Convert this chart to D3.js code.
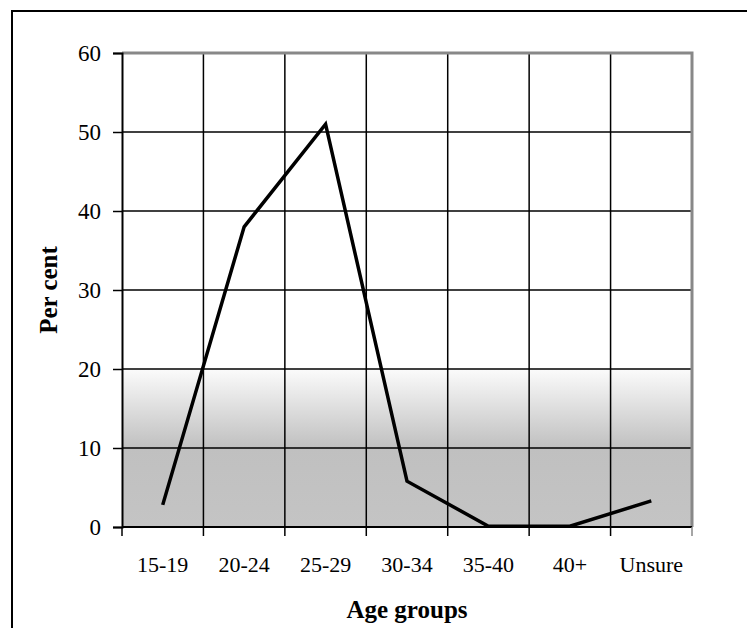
<!DOCTYPE html>
<html>
<head>
<meta charset="utf-8">
<script src="https://cdn.jsdelivr.net/npm/d3@7"></script>
<style>
  body { margin: 0; background: #fff; }
  text { font-family: "Liberation Serif", "Times New Roman", serif; fill: #000; }
</style>
</head>
<body>
<div id="chart"></div>
<script>
var ageGroups = ["15-19", "20-24", "25-29", "30-34", "35-40", "40+", "Unsure"];
var perCent = [2.8, 38, 51, 5.8, 0.1, 0.1, 3.3];
var yTicks = [0, 10, 20, 30, 40, 50, 60];

var W = 747, H = 628;
var pLeft = 122, pRight = 692, pTop = 53, pBottom = 527;

var svg = d3.select("#chart").append("svg")
  .attr("width", W).attr("height", H);

// outer frame (cut off at right and bottom)
svg.append("rect")
  .attr("x", 12).attr("y", 11)
  .attr("width", W + 20).attr("height", H + 20)
  .attr("fill", "none").attr("stroke", "#000").attr("stroke-width", 2);

var x = d3.scaleBand().domain(ageGroups).range([pLeft, pRight]);
var y = d3.scaleLinear().domain([0, 60]).range([pBottom, pTop]);

// shaded lower band
var grad = svg.append("defs").append("linearGradient")
  .attr("id", "shade").attr("x1", 0).attr("y1", 0).attr("x2", 0).attr("y2", 1);
grad.append("stop").attr("offset", "0%").attr("stop-color", "#fbfbfb");
grad.append("stop").attr("offset", "50%").attr("stop-color", "#c0c0c0");
grad.append("stop").attr("offset", "100%").attr("stop-color", "#c4c4c4");

svg.append("rect")
  .attr("x", pLeft).attr("y", y(20))
  .attr("width", pRight - pLeft).attr("height", y(0) - y(20))
  .attr("fill", "url(#shade)");

// horizontal gridlines
svg.append("g").selectAll("line").data(yTicks.filter(d => d > 0 && d < 60)).join("line")
  .attr("x1", pLeft).attr("x2", pRight)
  .attr("y1", d => y(d)).attr("y2", d => y(d))
  .attr("stroke", "#000").attr("stroke-width", 1.5);

// vertical gridlines at category boundaries
var bounds = ageGroups.slice(1).map(d => x(d));
svg.append("g").selectAll("line").data(bounds).join("line")
  .attr("x1", d => d).attr("x2", d => d)
  .attr("y1", pTop).attr("y2", pBottom)
  .attr("stroke", "#000").attr("stroke-width", 1.5);

// plot border top / right (gray)
svg.append("path")
  .attr("d", "M" + pLeft + "," + pTop + "H" + pRight + "V" + pBottom)
  .attr("fill", "none").attr("stroke", "#888").attr("stroke-width", 3);

// Y axis
var yAxis = svg.append("g")
  .attr("transform", "translate(" + pLeft + ",0)")
  .call(d3.axisLeft(y).tickValues(yTicks).tickSize(9).tickPadding(12));
yAxis.select(".domain").attr("stroke", "#000").attr("stroke-width", 2);
yAxis.selectAll(".tick line").attr("stroke", "#000").attr("stroke-width", 1.5);
yAxis.selectAll("text").attr("font-size", 23).attr("font-family", "Liberation Serif");

// X axis
var xAxis = svg.append("g")
  .attr("transform", "translate(0," + pBottom + ")");
xAxis.append("line")
  .attr("x1", pLeft).attr("x2", pRight).attr("y1", 0).attr("y2", 0)
  .attr("stroke", "#000").attr("stroke-width", 2);
xAxis.selectAll("line.tk").data([pLeft].concat(bounds).concat([pRight])).join("line")
  .attr("class", "tk")
  .attr("x1", d => d).attr("x2", d => d).attr("y1", 0).attr("y2", 9)
  .attr("stroke", d => d === pRight ? "#888" : "#000").attr("stroke-width", 1.5);
xAxis.selectAll("text").data(ageGroups).join("text")
  .attr("x", d => x(d) + x.bandwidth() / 2)
  .attr("y", 45)
  .attr("text-anchor", "middle")
  .attr("font-size", 22)
  .text(d => d);

// line
var line = d3.line()
  .x((d, i) => x(ageGroups[i]) + x.bandwidth() / 2)
  .y(d => y(d));
svg.append("path")
  .datum(perCent)
  .attr("d", line)
  .attr("fill", "none").attr("stroke", "#000").attr("stroke-width", 3.5)
  .attr("stroke-linejoin", "miter");

// axis titles
svg.append("text")
  .attr("transform", "translate(57,290) rotate(-90)")
  .attr("text-anchor", "middle")
  .attr("font-size", 25).attr("font-weight", "bold")
  .text("Per cent");

svg.append("text")
  .attr("x", 407).attr("y", 618)
  .attr("text-anchor", "middle")
  .attr("font-size", 25).attr("font-weight", "bold")
  .text("Age groups");
</script>
</body>
</html>
